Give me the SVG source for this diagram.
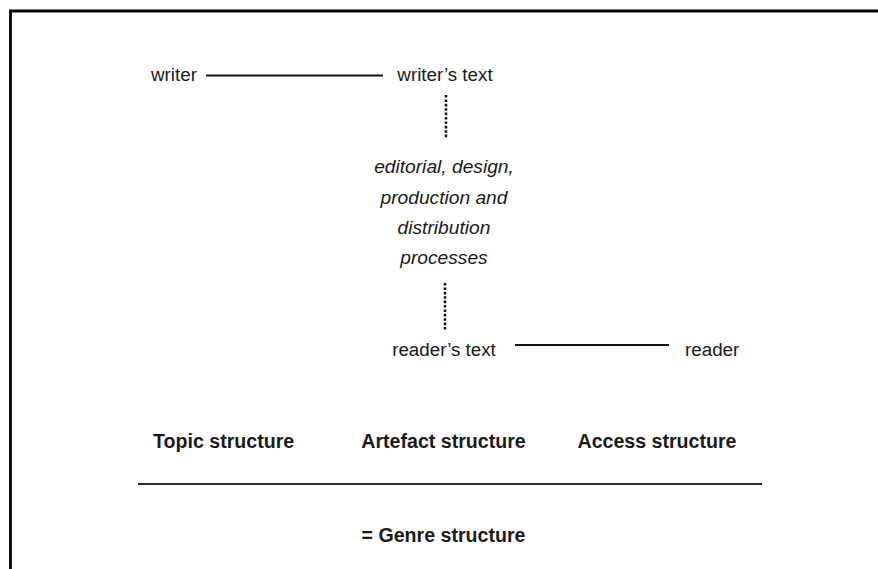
<svg xmlns="http://www.w3.org/2000/svg" width="878" height="569" viewBox="0 0 878 569">
  <style>
    text { font-family: "Liberation Sans", Arial, sans-serif; font-size: 18.8px; fill: #1a1a1a; }
    .it { font-style: italic; text-anchor: middle; font-size: 19.2px; }
    .b { font-weight: bold; font-size: 19.6px; }
    .mid { text-anchor: middle; }
    .solid { stroke: #111; stroke-width: 2; fill: none; }
    .dots { stroke: #111; stroke-width: 2.5; stroke-dasharray: 2.6 1.8; fill: none; }
  </style>
  <rect width="878" height="569" fill="#fff"/>
  <!-- frame (top and left edges) -->
  <path d="M10.5 578 V11 H890" stroke="#000" stroke-width="2.8" fill="none"/>

  <g id="connectors">
    <line class="solid" x1="206" y1="75.5" x2="383" y2="75.5"/>
    <line class="dots" x1="446" y1="95" x2="446" y2="138"/>
    <line class="dots" x1="445" y1="283" x2="445" y2="330"/>
    <line class="solid" x1="515" y1="345" x2="669" y2="345"/>
    <line x1="138" y1="484" x2="762" y2="484" stroke="#2a2a2a" stroke-width="2.2"/>
  </g>

  <g id="writer"><text x="151" y="81">writer</text></g>
  <g id="writers-text"><text class="mid" x="445" y="81">writer’s text</text></g>
  <g id="processes">
    <text class="it" x="444" y="173">editorial, design,</text>
    <text class="it" x="444" y="204">production and</text>
    <text class="it" x="444" y="234">distribution</text>
    <text class="it" x="444" y="264">processes</text>
  </g>
  <g id="readers-text"><text class="mid" x="444" y="356">reader’s text</text></g>
  <g id="reader"><text x="685" y="356">reader</text></g>

  <g id="structures">
    <text class="b" x="153" y="448">Topic structure</text>
    <text class="b mid" x="443.5" y="448">Artefact structure</text>
    <text class="b mid" x="657" y="448">Access structure</text>
  </g>
  <g id="genre"><text class="b mid" x="443.5" y="542">= Genre structure</text></g>
</svg>
